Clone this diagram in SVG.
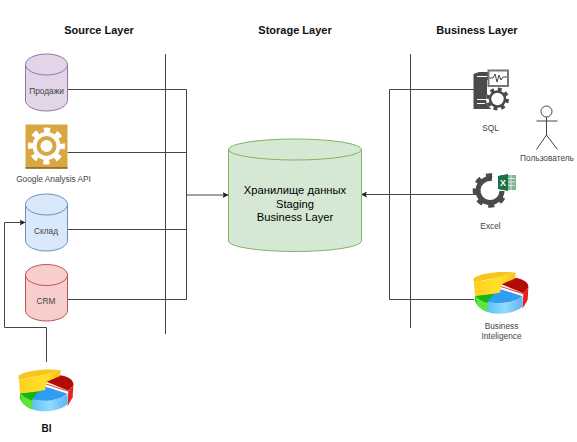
<svg xmlns="http://www.w3.org/2000/svg" width="577" height="442" viewBox="0 0 577 442">
<style>
text{font-family:"Liberation Sans",Arial,sans-serif;fill:#444;text-anchor:middle}
.t{font-size:11px;font-weight:700;fill:#111}
.l{font-size:8.300px}
.m{font-size:11.200px;fill:#000}
.c{fill:none;stroke:#444;stroke-width:1}
.dark{fill:#4a4a4a}
</style>
<defs>
<marker id="ah" viewBox="0 0 6 6" refX="5.500" refY="3" markerWidth="6" markerHeight="6" markerUnits="userSpaceOnUse" orient="auto"><path d="M0 0L6 3L0 6L1.200 3Z" fill="#222"/></marker>
<linearGradient id="gy" x1="0" x2="1" y1="0" y2="0"><stop offset="0" stop-color="#ffcf1f"/><stop offset=".6" stop-color="#ffe02a"/><stop offset="1" stop-color="#f4c21c"/></linearGradient>
<linearGradient id="gb" x1="0" x2="1" y1="0" y2="0"><stop offset="0" stop-color="#5cc0f8"/><stop offset=".5" stop-color="#92dcff"/><stop offset="1" stop-color="#5fb4ee"/></linearGradient>
<g id="pie" transform="scale(.3333)">
<path d="M97 148C130 158 180 150 203 133L203 162C180 184 125 190 97 178Z" fill="url(#gb)"/>
<path d="M60 130L130 120L97 150L97 178C80 172 65 160 60 145Z" fill="#14b414"/>
<path d="M60 130L66 157C75 168 85 174 97 178L97 152C85 148 70 140 60 130Z" fill="#5fe536"/>
<path d="M130 108L203 131C180 150 130 158 97 148Z" fill="#2f9df0"/>
<path d="M136 94L180 76C205 80 222 90 220 106L205 122Z" fill="#b30c05"/>
<path d="M136 100L205 122L204 125L135 103Z" fill="#e04a44"/>
<path d="M205 122L220 106L218 142L203 168Z" fill="#e8201f"/>
<path d="M55 78C75 62 130 55 182 60L140 73C110 80 75 85 57 90Z" fill="#f7c51c"/>
<path d="M57 90C85 84 120 80 182 60L180 78L140 95L135 120C110 125 85 128 60 130Z" fill="url(#gy)"/>
</g>
</defs>
<g id="titles">
<text class="t" x="99" y="34">Source Layer</text>
<text class="t" x="295" y="34">Storage Layer</text>
<text class="t" x="477" y="34">Business Layer</text>
</g>
<g id="connectors">
<path class="c" d="M165.500 54V334"/>
<path class="c" d="M410.500 54V328"/>
<path class="c" d="M67.500 89.500H186.500V299.500H67.500"/>
<path class="c" d="M67.500 152.500H186.500"/>
<path class="c" d="M67.500 229.500H186.500"/>
<path class="c" d="M186.500 195H228" marker-end="url(#ah)"/>
<path class="c" d="M46.500 362V327.500H4.500V222.500H25" marker-end="url(#ah)"/>
<path class="c" d="M474 89.500H389.500V299.500H474"/>
<path class="c" d="M476 194.500H361.500" marker-end="url(#ah)"/>
</g>
<g id="prodazhi">
<path d="M25.500 64.500A21 10.500 0 0 1 67.500 64.500V100.500A21 10.500 0 0 1 25.500 100.500Z" fill="#e1d5e7" stroke="#9673a6"/>
<path d="M25.500 64.500A21 10.500 0 0 0 67.500 64.500" fill="none" stroke="#9673a6"/>
<text class="l" x="46.500" y="94">Продажи</text>
</g>
<g id="google-api">
<rect x="25.500" y="124.500" width="42" height="44" fill="#d9a741"/>
<rect x="25.500" y="167" width="42" height="1.800" fill="#94702a"/>
<circle cx="46.500" cy="146" r="15.500" fill="none" stroke="#fff" stroke-width="6" stroke-dasharray="6 6.170" stroke-dashoffset="3"/>
<circle cx="46.500" cy="146" r="14" fill="#fff"/>
<circle cx="46.500" cy="146" r="8" fill="none" stroke="#d9a741" stroke-width="4"/>
<text class="l" x="53.500" y="182">Google Analysis API</text>
</g>
<g id="sklad">
<path d="M25.500 204.500A21 10.500 0 0 1 67.500 204.500V240.500A21 10.500 0 0 1 25.500 240.500Z" fill="#dae8fc" stroke="#6c8ebf"/>
<path d="M25.500 204.500A21 10.500 0 0 0 67.500 204.500" fill="none" stroke="#6c8ebf"/>
<text class="l" x="46" y="234">Склад</text>
</g>
<g id="crm">
<path d="M25.500 275A21 10.500 0 0 1 67.500 275V310.500A21 10.500 0 0 1 25.500 310.500Z" fill="#f8cecc" stroke="#b85450"/>
<path d="M25.500 275A21 10.500 0 0 0 67.500 275" fill="none" stroke="#b85450"/>
<text class="l" x="46" y="304">CRM</text>
</g>
<g id="bi">
<use href="#pie" x="0" y="350"/>
<text x="46.500" y="432" style="font-size:10px;font-weight:700;fill:#111">BI</text>
</g>
<g id="storage">
<path d="M228.500 149.500A66.500 10.500 0 0 1 361.500 149.500V241A66.500 10.500 0 0 1 228.500 241Z" fill="#d5e8d4" stroke="#82b366"/>
<path d="M228.500 149.500A66.500 10.500 0 0 0 361.500 149.500" fill="none" stroke="#82b366"/>
<text class="m" x="295" y="194">Хранилище данных</text>
<text class="m" x="295" y="208">Staging</text>
<text class="m" x="295" y="221">Business Layer</text>
</g>
<g id="sql">
<path class="dark" d="M473.500 74L479 72H488V80H487V98H492V109H473.500Z"/>
<path d="M477 76.500H487M477 99.500H487M477 103.500H485" stroke="#fff" stroke-width="1.200" fill="none"/>
<rect x="488.500" y="70.500" width="19.500" height="15.500" fill="#fff" stroke="#777" stroke-width="2"/>
<path d="M489.500 78H493L495 74L497 82L499 75L501 80L503 77H507" fill="none" stroke="#444" stroke-width="1"/>
<circle cx="497.500" cy="99" r="11.500" fill="#fff"/>
<circle cx="497.500" cy="99" r="9.800" fill="none" stroke="#4a4a4a" stroke-width="3.400" stroke-dasharray="3.850 3.850"/>
<circle cx="497.500" cy="99" r="7.500" fill="none" stroke="#4a4a4a" stroke-width="2.600"/>
<text class="l" x="490.500" y="131">SQL</text>
</g>
<g id="user">
<circle cx="546.500" cy="111.500" r="5.500" fill="#fff" stroke="#444"/>
<path class="c" d="M546.500 117V135M536.500 121H557.500M536.500 149.500L546.500 135L557.500 149.500"/>
<text class="l" x="547" y="161">Пользователь</text>
</g>
<g id="excel">
<path d="M492 175.600A15 15 0 1 0 504.800 192.500" fill="none" stroke="#4a4a4a" stroke-width="4.500" stroke-dasharray="5.900 5.900"/>
<path d="M492 178.700A12 12 0 1 0 502 191" fill="none" stroke="#4a4a4a" stroke-width="5"/>
<rect x="500" y="175" width="16" height="15" fill="#7fb795"/>
<path d="M508 178.500H515M508 182H515M508 185.500H515M511 175V190" stroke="#e6f2ea" stroke-width=".8" fill="none"/>
<path d="M498 176L508 174V191L498 189Z" fill="#1e7145"/>
<text x="503" y="186" style="font-size:9px;font-weight:700;fill:#fff">X</text>
<text class="l" x="490.500" y="229">Excel</text>
</g>
<g id="business-intelligence">
<use href="#pie" x="455" y="252.500"/>
<text class="l" x="501.500" y="329">Business</text>
<text class="l" x="501.500" y="339">Inteligence</text>
</g>
</svg>
